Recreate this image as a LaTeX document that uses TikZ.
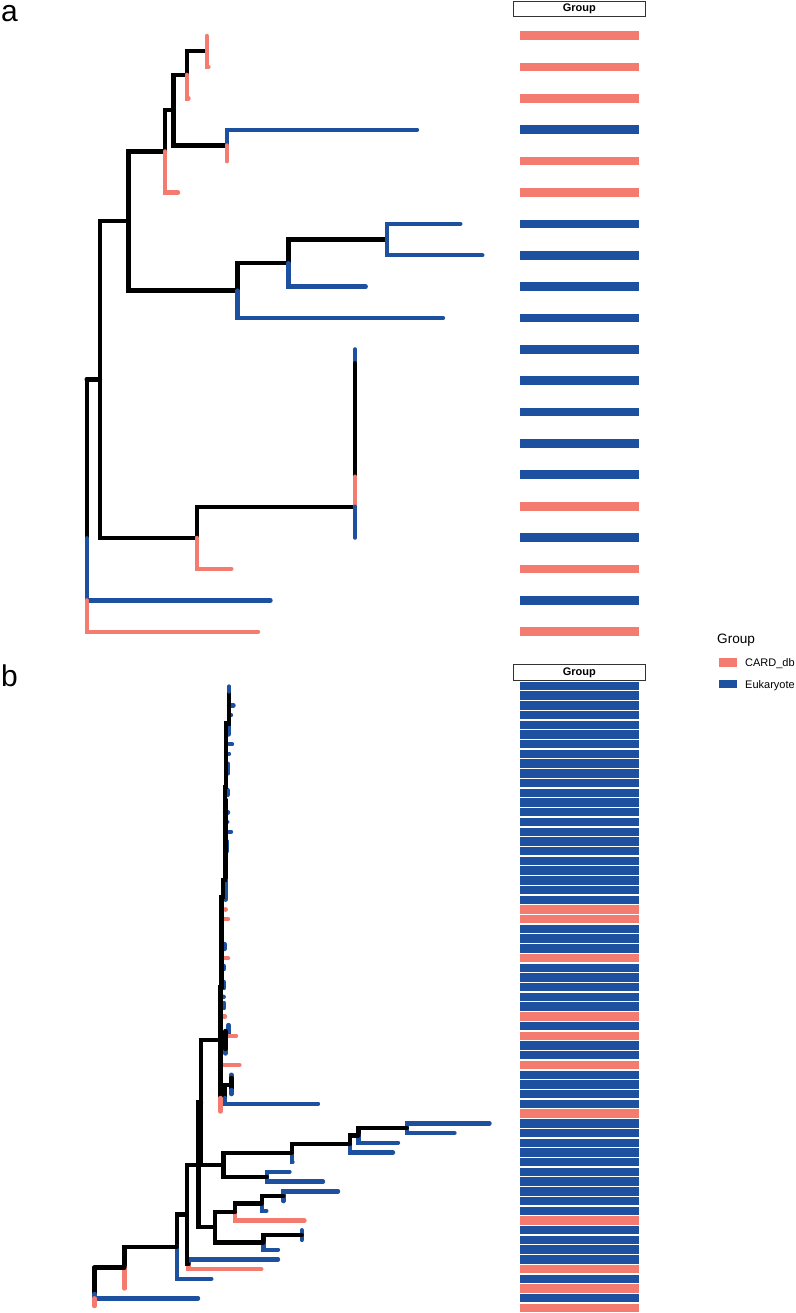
\documentclass[tikz,border=0pt]{standalone}
\usepackage{fontspec}
\setmainfont{Liberation Sans}
\definecolor{cpink}{RGB}{244,123,112}
\definecolor{cblue}{RGB}{30,80,160}
\tikzset{
 br/.style={line width=4.4pt, line cap=round, line join=miter},
 bk/.style={br, black},
 pk/.style={br, cpink},
 bl/.style={br, cblue},
 hdr/.style={draw=black!80, line width=0.9pt, fill=white},
 hdrtxt/.style={anchor=base, inner sep=0pt, font=\fontsize{11}{11}\selectfont\bfseries},
 lbl/.style={anchor=base west, inner sep=0pt, font=\fontsize{30}{30}\selectfont},
 legtxt/.style={anchor=base west, inner sep=0pt, font=\fontsize{11}{11}\selectfont},
}
\newcommand\edgeT[5]{\draw[#1] (#2,#3) |- (#4,#5);}
\begin{document}
\begin{tikzpicture}[x=1pt,y=-1pt]
\useasboundingbox (0,0) rectangle (795,1313);
\fill[white] (0,0) rectangle (795,1313);

% ---------- labels ----------
\node[lbl] (la) at (1,22) {a};
\node[lbl] (lb) at (1,686) {b};

% ---------- panel a tree ----------
% root
\draw[bk] (86.7,379.4) -- (86.7,538.3);
\draw[bl] (86.7,538.3) |- (270.5,600.4);
\draw[pk] (86.7,600.4) |- (258,631.7);
\draw[bk] (86.7,379.4) -- (100,379.4);
% N10
\edgeT{bk}{100}{379.4}{128.3}{221}
\edgeT{bk}{100}{379.4}{196.7}{537.85}
% N11
\edgeT{bk}{196.7}{537.85}{355}{506.7}
\edgeT{pk}{196.7}{537.85}{231.3}{569}
% N13 (multifurcation)
\draw[bl] (355,349.4) -- (355,363.3);
\draw[bk] (355,363.3) -- (355,476.7);
\draw[pk] (355,476.7) -- (355,506.7);
\draw[bl] (355,506.7) -- (355,537.6);
% N6
\edgeT{bk}{128.3}{221}{165}{151.4}
\edgeT{bk}{128.3}{221}{237.3}{290.6}
% N5
\edgeT{bk}{165}{151.4}{173.3}{110.2}
\edgeT{pk}{165}{151.4}{178}{192.5}
% N3
\edgeT{bk}{173.3}{110.2}{186.7}{74.85}
\edgeT{bk}{173.3}{110.2}{226.7}{145.5}
% N2
\edgeT{bk}{186.7}{74.85}{206.7}{51.3}
\edgeT{pk}{186.7}{74.85}{188.5}{98.4}
% N1
\edgeT{pk}{206.7}{51.3}{206.7}{36}
\edgeT{pk}{206.7}{51.3}{208.5}{67}
% N4
\edgeT{bl}{226.7}{145.5}{417}{129.8}
\edgeT{pk}{226.7}{145.5}{226.7}{161.2}
% N7
\edgeT{bk}{237.3}{290.6}{288.3}{263.2}
\edgeT{bl}{237.3}{290.6}{443}{318}
% N8
\edgeT{bk}{288.3}{263.2}{386.7}{239.6}
\edgeT{bl}{288.3}{263.2}{365.7}{286.7}
% N9
\edgeT{bl}{386.7}{239.6}{460.3}{223.9}
\edgeT{bl}{386.7}{239.6}{482.3}{255.3}

% ---------- panel a group column ----------
\draw[hdr] (513.3,1) rectangle (645.3,16.7);
\node[hdrtxt] (ha) at (579.3,11.3) {Group};
\foreach \c [count=\i from 0] in {cpink,cpink,cpink,cblue,cpink,cpink,cblue,cblue,cblue,cblue,cblue,cblue,cblue,cblue,cblue,cpink,cblue,cpink,cblue,cpink}{
  \fill[\c] (520,{31.3+31.37*\i}) rectangle ++(119,8.7);
}

% ---------- panel b tree ----------
% upper clade: small tips (under spine)
\draw[bl] (229,705.3) -- (233.5,705.3);
\draw[bl] (229,715.1) -- (231,715.1);
\draw[bl] (228.3,724.8) -- (228.3,734.5);
\draw[bl] (226,744.2) -- (232,744.2);
\draw[bl] (226,753.9) -- (229,753.9);
\draw[bl] (228,763.7) -- (228,773.4);
\draw[bl] (227.3,790) -- (227.3,795);
\draw[bl] (225,812.3) -- (228,812.3);
\draw[bl] (225,822) -- (227.3,822);
\draw[bl] (225,831.7) -- (231,831.7);
\draw[bl] (227,841.4) -- (227,851.1);
\draw[bl] (225.5,880.3) -- (225.5,899.7);
\draw[pk] (225.5,909.3) -- (225.5,909.7);
\draw[pk] (224,919.2) -- (228,919.2);
\draw[bl] (224.5,944) -- (224.5,949);
\draw[pk] (223,958.1) -- (228,958.1);
\draw[bl] (224,966) -- (224,969);
\draw[bl] (224,982) -- (224,988);
\draw[bl] (223.5,996.8) -- (223.5,997);
\draw[bl] (224,1003) -- (224,1008);
\draw[pk] (222,1016.4) -- (225,1016.4);
\draw[bl] (228.5,1025) -- (228.5,1034);
\draw[pk] (226,1035.8) -- (236,1035.8);
\draw[bl] (225.5,1050) -- (225.5,1053.5);
\draw[pk] (222,1065) -- (239.5,1065);
% spine
\draw[bk] (229,693) -- (229,723.3) -- (225.8,723.3) -- (225.8,786.7) -- (224.8,786.7)
  -- (224.8,880) -- (222.8,880) -- (222.8,896.7) -- (221.5,896.7) -- (221.5,986.7)
  -- (220.3,986.7) -- (220.3,1098);
\draw[bk] (226.2,800) -- (226.2,878);
\draw[bk] (220.3,1040) -- (225.5,1040);
\draw[bk] (225.5,1031) -- (225.5,1049);
\draw[bl] (229,686.5) -- (229,691.5);
% tips 40-44
\draw[bk] (220.3,1098) -- (225,1098);
\edgeT{bk}{225}{1098}{231.3}{1085}
\edgeT{bl}{225}{1098}{318}{1103.9}
\draw[bl] (231.3,1074.7) -- (231.3,1078);
\draw[bk] (231.3,1078) -- (231.3,1090);
\draw[bl] (231.3,1090) -- (231.3,1094.1);
\draw[pk] (220.3,1098) -- (220.3,1111.5);
% Q,P,O,M
\edgeT{bl}{406.7}{1128.15}{489.5}{1123.3}
\edgeT{bl}{406.7}{1128.15}{454.5}{1133}
\edgeT{bk}{358.3}{1135.4}{406.7}{1128.15}
\edgeT{bl}{358.3}{1135.4}{398}{1142.7}
\edgeT{bk}{350}{1144}{358.3}{1135.4}
\edgeT{bl}{350}{1144}{393}{1152.5}
\edgeT{bk}{291.7}{1153.1}{350}{1144}
\edgeT{bl}{291.7}{1153.1}{292.5}{1162.2}
% N
\edgeT{bl}{266.7}{1176.75}{289.5}{1171.9}
\edgeT{bl}{266.7}{1176.75}{323}{1181.6}
% G
\edgeT{bk}{223.3}{1164.9}{291.7}{1153.1}
\edgeT{bk}{223.3}{1164.9}{266.7}{1176.75}
% J, I, H
\edgeT{bl}{283.3}{1196.2}{338}{1191.3}
\edgeT{bl}{283.3}{1196.2}{283.3}{1201.1}
\edgeT{bk}{261.7}{1203.5}{283.3}{1196.2}
\edgeT{bl}{261.7}{1203.5}{266.3}{1210.8}
\edgeT{bk}{235}{1212}{261.7}{1203.5}
\edgeT{pk}{235}{1212}{304.5}{1220.5}
% L, K, F
\edgeT{bl}{301.7}{1235.05}{301.7}{1230.2}
\edgeT{bl}{301.7}{1235.05}{301.7}{1239.9}
\edgeT{bk}{263.3}{1242.4}{301.7}{1235.05}
\edgeT{bl}{263.3}{1242.4}{278}{1249.7}
\edgeT{bk}{215}{1227.2}{235}{1212}
\edgeT{bk}{215}{1227.2}{263.3}{1242.4}
% E, C
\edgeT{bk}{201}{1102.5}{220.3}{1040}
\edgeT{bk}{201}{1102.5}{223.3}{1164.9}
\edgeT{bk}{198.5}{1164.85}{201}{1102.5}
\edgeT{bk}{198.5}{1164.85}{215}{1227.2}
% D, B, A, A2
\edgeT{bl}{188.5}{1264.25}{278}{1259.4}
\edgeT{pk}{188.5}{1264.25}{261.3}{1269.1}
\edgeT{bk}{186.7}{1214.55}{198.5}{1164.85}
\edgeT{bk}{186.7}{1214.55}{188.5}{1264.25}
\edgeT{bk}{176.7}{1246.7}{186.7}{1214.55}
\edgeT{bl}{176.7}{1246.7}{211.3}{1278.8}
\edgeT{bk}{124.3}{1267.6}{176.7}{1246.7}
\edgeT{pk}{124.3}{1267.6}{124.3}{1288.5}
% root
\draw[bk] (94.3,1267.6) -- (124.3,1267.6);
\draw[bk] (94.3,1267.6) -- (94.3,1294);
\draw[bl] (94.3,1294) |- (198,1298.3);
\draw[pk] (94.3,1298.3) -- (94.3,1306);

% ---------- panel b group column ----------
\draw[hdr] (513.3,664) rectangle (645.3,680.7);
\node[hdrtxt] (hb) at (579.3,675.2) {Group};
\foreach \c [count=\i from 0] in {cblue,cblue,cblue,cblue,cblue,cblue,cblue,cblue,cblue,cblue,
 cblue,cblue,cblue,cblue,cblue,cblue,cblue,cblue,cblue,cblue,
 cblue,cblue,cblue,cpink,cpink,cblue,cblue,cblue,cpink,cblue,
 cblue,cblue,cblue,cblue,cpink,cblue,cpink,cblue,cblue,cpink,
 cblue,cblue,cblue,cblue,cpink,cblue,cblue,cblue,cblue,cblue,
 cblue,cblue,cblue,cblue,cblue,cpink,cblue,cblue,cblue,cblue,
 cpink,cblue,cpink,cblue,cpink}{
  \fill[\c] (520,{681.7+9.72*\i}) rectangle ++(119,8.4);
}

% ---------- legend ----------
\node[anchor=base west, inner sep=0pt, font=\fontsize{13.6}{13.6}\selectfont] (lt) at (717,643) {Group};
\fill[cpink] (719,658.3) rectangle (736.7,666.7);
\fill[cblue] (719,680) rectangle (736.7,688.3);
\node[legtxt] (l1) at (745,666.3) {CARD\_db};
\node[legtxt] (l2) at (745,688) {Eukaryote};
\end{tikzpicture}
\end{document}
